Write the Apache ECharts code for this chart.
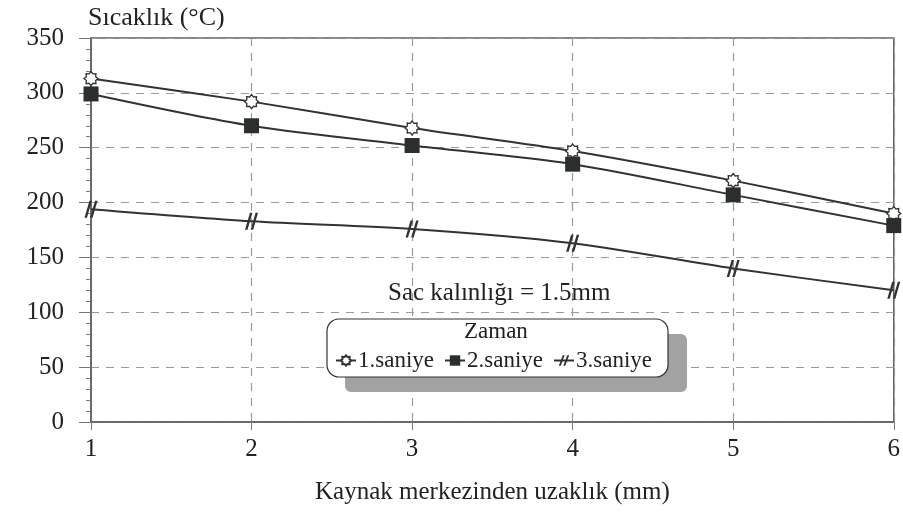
<!DOCTYPE html>
<html>
<head>
<meta charset="utf-8">
<script src="https://cdn.jsdelivr.net/npm/echarts@6/dist/echarts.min.js"></script>
<style>
  html, body { margin: 0; padding: 0; background: #fff; }
  #chart { width: 903px; height: 520px; }
</style>
</head>
<body>
<div id="chart"></div>
<script>
// Distance from weld centre (mm)
const distances = [1, 2, 3, 4, 5, 6];
// Temperature (°C) at each second
const saniye1 = [313, 292, 268, 247, 220, 190];
const saniye2 = [299, 270, 252, 235, 207, 179];
const saniye3 = [194, 183, 176, 163, 140, 120];
const seriesNames = ['1.saniye', '2.saniye', '3.saniye'];
const yTicks = [0, 50, 100, 150, 200, 250, 300, 350];

const FONT = '"Liberation Serif", "DejaVu Serif", serif';
const INK = '#2f3433';
const TXT = '#222';

// 8-pointed star outline
const starPath = 'path://M100,50 L83.3,63.8 L85.4,85.4 L63.8,83.3 L50,100 L36.2,83.3 L14.6,85.4 L16.7,63.8 L0,50 L16.7,36.2 L14.6,14.6 L36.2,16.7 L50,0 L63.8,16.7 L85.4,14.6 L83.3,36.2 Z';
// two slanted strokes
const hashPath = 'path://M20,100 L34,100 L62,0 L48,0 Z M52,100 L66,100 L94,0 L80,0 Z';

const pairs = arr => distances.map((d, i) => [d, arr[i]]);

const chart = echarts.init(document.getElementById('chart'), null, { renderer: 'canvas' });

const lineBase = {
  type: 'line',
  smooth: 0.3,
  lineStyle: { color: INK, width: 2 },
  z: 3
};

chart.setOption({
  animation: false,
  backgroundColor: '#ffffff',
  grid: {
    left: 91, right: 8, top: 38, bottom: 98,
    show: true, borderColor: '#5b615f', borderWidth: 1.5, backgroundColor: 'transparent'
  },
  xAxis: {
    type: 'value',
    min: 1, max: 6, interval: 1,
    name: 'Kaynak merkezinden uzaklık (mm)',
    nameLocation: 'middle',
    nameGap: 58,
    nameTextStyle: { fontFamily: FONT, fontSize: 25, color: TXT },
    axisLine: { show: true, lineStyle: { color: '#5b615f', width: 1.5 } },
    axisTick: { show: true, length: 8, lineStyle: { color: '#777' } },
    axisLabel: { fontFamily: FONT, fontSize: 25, color: TXT, margin: 15 },
    splitLine: { show: true, lineStyle: { color: '#9a9a9a', type: [8, 7], width: 1.2 } }
  },
  yAxis: {
    type: 'value',
    min: 0, max: 350, interval: 50,
    name: 'Sıcaklık (°C)',
    nameLocation: 'end',
    nameGap: 7,
    nameTextStyle: { fontFamily: FONT, fontSize: 26, color: TXT, align: 'left', padding: [0, 0, 0, -3] },
    axisLine: { show: true, lineStyle: { color: '#5b615f', width: 1.5 } },
    axisTick: { show: true, length: 12, lineStyle: { color: '#777' } },
    minorTick: { show: true, splitNumber: 5, length: 5, lineStyle: { color: '#777' } },
    axisLabel: {
      fontFamily: FONT, fontSize: 25, color: TXT, margin: 27,
      formatter: v => (yTicks.indexOf(v) >= 0 ? String(v) : '')
    },
    splitLine: { show: true, lineStyle: { color: '#9a9a9a', type: [8, 7], width: 1.2 } }
  },
  legend: {
    data: seriesNames,
    left: 330, top: 344,
    orient: 'horizontal',
    itemGap: 10,
    itemWidth: 20, itemHeight: 13,
    textStyle: { fontFamily: FONT, fontSize: 23, color: TXT, padding: [0, 0, 0, -3] },
    z: 10
  },
  graphic: [
    {
      type: 'rect', z: 5, silent: true,
      shape: { x: 345, y: 334, width: 342, height: 58, r: 6 },
      style: { fill: '#a2a2a2' }
    },
    {
      type: 'rect', z: 6, silent: true,
      shape: { x: 327, y: 319, width: 341, height: 58, r: 12 },
      style: { fill: '#ffffff', stroke: '#333', lineWidth: 1.2 }
    },
    {
      type: 'text', z: 7, silent: true,
      left: 464, top: 320,
      style: { text: 'Zaman', fontFamily: FONT, fontSize: 23, fill: TXT }
    },
    {
      type: 'text', z: 7, silent: true,
      left: 388, top: 281,
      style: { text: 'Sac kalınlığı = 1.5mm', fontFamily: FONT, fontSize: 25, fill: TXT }
    }
  ],
  series: [
    Object.assign({}, lineBase, {
      name: seriesNames[0],
      data: pairs(saniye1),
      symbol: starPath, symbolSize: 14,
      itemStyle: { color: '#ffffff', borderColor: INK, borderWidth: 1.3 }
    }),
    Object.assign({}, lineBase, {
      name: seriesNames[1],
      data: pairs(saniye2),
      symbol: 'rect', symbolSize: 15,
      itemStyle: { color: '#2a2e2d', borderColor: '#2a2e2d', borderWidth: 0 }
    }),
    Object.assign({}, lineBase, {
      name: seriesNames[2],
      data: pairs(saniye3),
      symbol: hashPath, symbolSize: [13, 17],
      itemStyle: { color: INK, borderWidth: 0 }
    })
  ]
});
</script>
</body>
</html>
